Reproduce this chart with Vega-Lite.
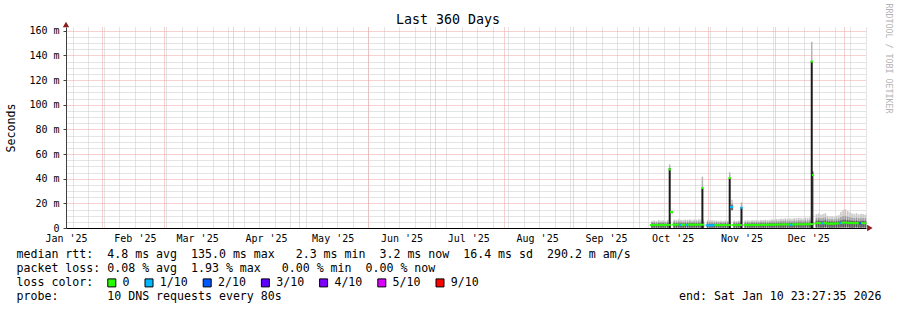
{
  "$schema": "https://vega.github.io/schema/vega-lite/v6.json",
  "width": 800,
  "height": 201,
  "autosize": "none",
  "padding": {"left": 66, "top": 27, "right": 31, "bottom": 82},
  "background": "white",
  "config": {"view": {"stroke": null}, "font": "DejaVu Sans Mono"},
  "title": {"text": "Last 360 Days", "font": "DejaVu Sans Mono", "fontSize": 13.3, "fontWeight": "normal", "color": "black", "anchor": "middle", "frame": "group", "dx": -18, "offset": 0, "dy": 23},
  "datasets": {
    "days": [
      {"d":"2025-10-06","lo":0.4,"m1":3.4,"m2":4.4,"hi":5.6,"med":2.4,"loss":"0"},
      {"d":"2025-10-07","lo":0.5,"m1":3.5,"m2":4.6,"hi":5.9,"med":2.5,"loss":"0"},
      {"d":"2025-10-08","lo":0.4,"m1":3.2,"m2":4.3,"hi":5.4,"med":2.3,"loss":"0"},
      {"d":"2025-10-09","lo":0.5,"m1":3.6,"m2":4.8,"hi":6.2,"med":2.6,"loss":"0"},
      {"d":"2025-10-10","lo":0.4,"m1":3.4,"m2":4.5,"hi":5.8,"med":2.4,"loss":"0"},
      {"d":"2025-10-11","lo":0.5,"m1":3.5,"m2":4.7,"hi":6.0,"med":2.5,"loss":"0"},
      {"d":"2025-10-12","lo":0.4,"m1":3.3,"m2":4.4,"hi":5.5,"med":2.3,"loss":"0"},
      {"d":"2025-10-13","lo":0.5,"m1":3.7,"m2":4.9,"hi":6.3,"med":2.6,"loss":"0"},
      {"d":"2025-10-14","lo":0.5,"m1":3.5,"m2":4.6,"hi":6.0,"med":2.5,"loss":"0"},
      {"d":"2025-10-15","lo":12.4,"m1":12.4,"m2":12.4,"hi":13.3,"med":12.9,"loss":"0"},
      {"d":"2025-10-16","lo":0.5,"m1":3.8,"m2":5.1,"hi":6.6,"med":2.7,"loss":"0"},
      {"d":"2025-10-17","lo":0.4,"m1":3.6,"m2":4.9,"hi":6.4,"med":2.6,"loss":"0"},
      {"d":"2025-10-18","lo":0.5,"m1":3.9,"m2":5.3,"hi":6.9,"med":2.8,"loss":"0"},
      {"d":"2025-10-19","lo":0.5,"m1":3.5,"m2":5.0,"hi":6.5,"med":2.4,"loss":"1/10"},
      {"d":"2025-10-20","lo":0.4,"m1":3.5,"m2":4.8,"hi":6.3,"med":2.5,"loss":"0"},
      {"d":"2025-10-21","lo":0.5,"m1":3.8,"m2":5.1,"hi":6.7,"med":2.7,"loss":"0"},
      {"d":"2025-10-22","lo":0.5,"m1":3.6,"m2":5.0,"hi":6.4,"med":2.5,"loss":"1/10"},
      {"d":"2025-10-23","lo":0.4,"m1":3.9,"m2":5.2,"hi":6.8,"med":2.8,"loss":"0"},
      {"d":"2025-10-24","lo":0.5,"m1":3.6,"m2":4.9,"hi":6.3,"med":2.6,"loss":"0"},
      {"d":"2025-10-25","lo":0.5,"m1":3.8,"m2":5.1,"hi":6.6,"med":2.7,"loss":"0"},
      {"d":"2025-10-26","lo":0.4,"m1":3.6,"m2":5.0,"hi":6.5,"med":2.6,"loss":"0"},
      {"d":"2025-10-27","lo":0.5,"m1":3.9,"m2":5.3,"hi":7.0,"med":2.8,"loss":"0"},
      {"d":"2025-10-28","lo":0.5,"m1":3.6,"m2":5.0,"hi":6.6,"med":2.6,"loss":"0"},
      {"d":"2025-10-29","lo":0.5,"m1":3.7,"m2":5.1,"hi":6.7,"med":2.7,"loss":"0"},
      {"d":"2025-10-31","lo":0.4,"m1":3.3,"m2":4.8,"hi":6.2,"med":2.2,"loss":"1/10"},
      {"d":"2025-11-01","lo":0.4,"m1":3.2,"m2":4.6,"hi":6.0,"med":2.1,"loss":"1/10"},
      {"d":"2025-11-02","lo":0.5,"m1":3.3,"m2":4.7,"hi":6.1,"med":2.2,"loss":"1/10"},
      {"d":"2025-11-03","lo":0.4,"m1":3.3,"m2":4.5,"hi":5.8,"med":2.3,"loss":"1/10"},
      {"d":"2025-11-04","lo":0.5,"m1":3.4,"m2":4.6,"hi":5.9,"med":2.4,"loss":"0"},
      {"d":"2025-11-05","lo":0.4,"m1":3.2,"m2":4.4,"hi":5.6,"med":2.3,"loss":"0"},
      {"d":"2025-11-06","lo":0.5,"m1":3.4,"m2":4.5,"hi":5.8,"med":2.4,"loss":"0"},
      {"d":"2025-11-07","lo":0.4,"m1":3.2,"m2":4.3,"hi":5.5,"med":2.3,"loss":"0"},
      {"d":"2025-11-08","lo":0.5,"m1":3.5,"m2":4.6,"hi":5.9,"med":2.5,"loss":"0"},
      {"d":"2025-11-09","lo":0.4,"m1":3.3,"m2":4.4,"hi":5.6,"med":2.3,"loss":"0"},
      {"d":"2025-11-10","lo":0.5,"m1":3.4,"m2":4.5,"hi":5.8,"med":2.4,"loss":"0"},
      {"d":"2025-11-11","lo":14.6,"m1":18.2,"m2":19.6,"hi":22.7,"med":17.0,"loss":"1/10"},
      {"d":"2025-11-12","lo":0.5,"m1":3.4,"m2":4.6,"hi":5.8,"med":2.4,"loss":"0"},
      {"d":"2025-11-13","lo":0.4,"m1":3.3,"m2":4.4,"hi":5.6,"med":2.3,"loss":"0"},
      {"d":"2025-11-14","lo":0.5,"m1":3.5,"m2":4.7,"hi":5.9,"med":2.5,"loss":"0"},
      {"d":"2025-11-15","lo":0.5,"m1":3.4,"m2":4.5,"hi":5.7,"med":2.4,"loss":"0"},
      {"d":"2025-11-17","lo":0.5,"m1":3.4,"m2":4.6,"hi":5.9,"med":2.4,"loss":"0"},
      {"d":"2025-11-18","lo":0.4,"m1":3.5,"m2":4.8,"hi":6.1,"med":2.5,"loss":"0"},
      {"d":"2025-11-19","lo":0.5,"m1":3.3,"m2":4.5,"hi":5.7,"med":2.3,"loss":"0"},
      {"d":"2025-11-20","lo":0.5,"m1":3.6,"m2":4.9,"hi":6.3,"med":2.6,"loss":"0"},
      {"d":"2025-11-21","lo":0.4,"m1":3.4,"m2":4.7,"hi":6.0,"med":2.4,"loss":"0"},
      {"d":"2025-11-22","lo":0.5,"m1":3.5,"m2":4.8,"hi":6.2,"med":2.5,"loss":"0"},
      {"d":"2025-11-23","lo":0.4,"m1":3.4,"m2":4.6,"hi":5.9,"med":2.4,"loss":"0"},
      {"d":"2025-11-24","lo":0.5,"m1":3.6,"m2":5.0,"hi":6.4,"med":2.6,"loss":"0"},
      {"d":"2025-11-25","lo":0.5,"m1":3.5,"m2":4.9,"hi":6.3,"med":2.5,"loss":"0"},
      {"d":"2025-11-26","lo":0.4,"m1":3.7,"m2":5.1,"hi":6.6,"med":2.7,"loss":"0"},
      {"d":"2025-11-27","lo":0.5,"m1":3.5,"m2":4.9,"hi":6.2,"med":2.5,"loss":"0"},
      {"d":"2025-11-28","lo":0.5,"m1":3.6,"m2":5.0,"hi":6.5,"med":2.6,"loss":"0"},
      {"d":"2025-11-29","lo":0.4,"m1":3.7,"m2":5.2,"hi":6.8,"med":2.7,"loss":"0"},
      {"d":"2025-11-30","lo":0.5,"m1":3.6,"m2":5.1,"hi":6.6,"med":2.6,"loss":"0"},
      {"d":"2025-12-01","lo":0.5,"m1":3.9,"m2":5.4,"hi":7.1,"med":2.8,"loss":"0"},
      {"d":"2025-12-02","lo":0.4,"m1":3.8,"m2":5.3,"hi":7.0,"med":2.7,"loss":"0"},
      {"d":"2025-12-03","lo":0.5,"m1":4.0,"m2":5.6,"hi":7.4,"med":2.9,"loss":"0"},
      {"d":"2025-12-04","lo":0.5,"m1":3.9,"m2":5.5,"hi":7.2,"med":2.8,"loss":"0"},
      {"d":"2025-12-05","lo":0.4,"m1":4.1,"m2":5.8,"hi":7.7,"med":3.0,"loss":"0"},
      {"d":"2025-12-06","lo":0.5,"m1":3.9,"m2":5.5,"hi":7.3,"med":2.8,"loss":"0"},
      {"d":"2025-12-07","lo":0.5,"m1":4.0,"m2":5.7,"hi":7.6,"med":2.9,"loss":"0"},
      {"d":"2025-12-08","lo":0.4,"m1":3.7,"m2":5.4,"hi":7.2,"med":2.6,"loss":"1/10"},
      {"d":"2025-12-09","lo":0.5,"m1":4.1,"m2":5.9,"hi":7.9,"med":3.0,"loss":"0"},
      {"d":"2025-12-10","lo":0.5,"m1":4.0,"m2":5.7,"hi":7.7,"med":2.9,"loss":"0"},
      {"d":"2025-12-11","lo":0.4,"m1":4.2,"m2":6.0,"hi":8.1,"med":3.1,"loss":"0"},
      {"d":"2025-12-12","lo":0.5,"m1":4.1,"m2":5.8,"hi":7.8,"med":3.0,"loss":"0"},
      {"d":"2025-12-13","lo":0.5,"m1":4.0,"m2":5.6,"hi":7.5,"med":2.9,"loss":"0"},
      {"d":"2025-12-14","lo":0.4,"m1":4.2,"m2":6.1,"hi":8.3,"med":3.1,"loss":"0"},
      {"d":"2025-12-15","lo":0.5,"m1":4.1,"m2":5.9,"hi":8.0,"med":3.0,"loss":"0"},
      {"d":"2025-12-16","lo":0.5,"m1":4.3,"m2":6.2,"hi":8.4,"med":3.2,"loss":"0"},
      {"d":"2025-12-17","lo":0.5,"m1":4.2,"m2":6.0,"hi":8.2,"med":3.1,"loss":"0"},
      {"d":"2025-12-19","lo":0.5,"m1":5.6,"m2":7.8,"hi":11.0,"med":3.9,"loss":"0"},
      {"d":"2025-12-20","lo":0.6,"m1":5.9,"m2":8.1,"hi":11.5,"med":4.1,"loss":"0"},
      {"d":"2025-12-21","lo":0.5,"m1":5.4,"m2":7.6,"hi":10.6,"med":3.8,"loss":"0"},
      {"d":"2025-12-22","lo":0.5,"m1":5.5,"m2":7.9,"hi":11.2,"med":3.7,"loss":"1/10"},
      {"d":"2025-12-23","lo":0.6,"m1":6.0,"m2":8.3,"hi":11.8,"med":4.2,"loss":"0"},
      {"d":"2025-12-24","lo":0.5,"m1":5.2,"m2":7.2,"hi":9.6,"med":3.7,"loss":"0"},
      {"d":"2025-12-25","lo":0.5,"m1":5.0,"m2":6.8,"hi":9.0,"med":3.5,"loss":"0"},
      {"d":"2025-12-26","lo":0.4,"m1":5.1,"m2":7.0,"hi":9.3,"med":3.6,"loss":"0"},
      {"d":"2025-12-27","lo":0.5,"m1":4.9,"m2":6.7,"hi":8.8,"med":3.5,"loss":"0"},
      {"d":"2025-12-28","lo":0.5,"m1":5.2,"m2":7.2,"hi":9.7,"med":3.7,"loss":"0"},
      {"d":"2025-12-29","lo":0.5,"m1":5.4,"m2":7.5,"hi":10.2,"med":3.8,"loss":"0"},
      {"d":"2025-12-30","lo":0.6,"m1":5.8,"m2":8.6,"hi":12.8,"med":3.9,"loss":"1/10"},
      {"d":"2025-12-31","lo":0.6,"m1":6.3,"m2":9.3,"hi":14.5,"med":4.3,"loss":"0"},
      {"d":"2026-01-01","lo":0.6,"m1":6.5,"m2":9.6,"hi":15.0,"med":4.4,"loss":"0"},
      {"d":"2026-01-02","lo":0.6,"m1":6.1,"m2":9.0,"hi":13.6,"med":4.2,"loss":"0"},
      {"d":"2026-01-03","lo":0.5,"m1":5.9,"m2":8.6,"hi":12.6,"med":4.1,"loss":"0"},
      {"d":"2026-01-04","lo":0.5,"m1":5.7,"m2":8.1,"hi":11.5,"med":4.0,"loss":"0"},
      {"d":"2026-01-05","lo":0.5,"m1":5.5,"m2":7.8,"hi":11.0,"med":3.9,"loss":"0"},
      {"d":"2026-01-06","lo":0.6,"m1":5.8,"m2":8.2,"hi":11.8,"med":4.1,"loss":"0"},
      {"d":"2026-01-07","lo":0.5,"m1":5.3,"m2":7.7,"hi":10.7,"med":3.8,"loss":"0"},
      {"d":"2026-01-08","lo":0.5,"m1":5.4,"m2":7.9,"hi":11.3,"med":3.7,"loss":"2/10"},
      {"d":"2026-01-09","lo":0.6,"m1":5.6,"m2":7.8,"hi":11.1,"med":4.0,"loss":"0"},
      {"d":"2026-01-10","lo":0.5,"m1":5.4,"m2":7.6,"hi":10.6,"med":3.9,"loss":"0"}
    ],
    "spikes": [
      {"t":"2025-10-14T16:00:00Z","top":48.4,"smoke":51.5,"med":47.5,"loss":"0"},
      {"t":"2025-10-29T09:00:00Z","top":32.2,"smoke":41.6,"med":32.6,"loss":"0"},
      {"t":"2025-11-10T16:00:00Z","top":40.3,"smoke":45.2,"med":40.6,"loss":"0"},
      {"t":"2025-11-15T23:00:00Z","top":16.8,"smoke":20.8,"med":16.4,"loss":"1/10"},
      {"t":"2025-12-17T14:00:00Z","top":135.4,"smoke":151.0,"med":135.0,"loss":"0"}
    ],
    "trail": [
      {"t":"2025-12-18T02:00:00Z","top":46.0,"med":43.0,"loss":"0"}
    ],
    "arrows": [
      {"t":"2025-01-16T00:00:00Z","v":165}
    ],
    "arrowx": [
      {"t":"2026-01-12T18:00:00Z","v":0}
    ]
  },
  "resolve": {"axis": {"x": "independent", "y": "independent"}},
  "layer": [
    {
      "data": {"name": "days"},
      "mark": {"type": "bar", "color": "#c8c8c8", "stroke": "#c8c8c8", "strokeWidth": 0.5},
      "encoding": {
        "x": {"field": "d", "timeUnit": "utcyearmonthdate", "type": "temporal",
          "scale": {"type": "utc", "domain": [{"year": 2025, "month": 1, "date": 16, "utc": true}, {"year": 2026, "month": 1, "date": 11, "utc": true}]},
          "axis": {"orient": "bottom", "tickCount": {"interval": "week", "step": 1}, "grid": true, "gridColor": "#c8c8c8", "gridDash": [1, 1], "labels": false, "ticks": false, "domain": false,
            "title": "end: Sat Jan 10 23:27:35 2026", "titleAlign": "right", "titleAnchor": "end", "titleX": 815, "titleY": 71, "titleBaseline": "alphabetic",
            "titleFont": "DejaVu Sans Mono", "titleFontSize": 11.6, "titleFontWeight": "normal", "titleColor": "black"}},
        "y": {"field": "lo", "type": "quantitative", "scale": {"domain": [0, 163], "nice": false},
          "axis": {"orient": "left", "values": [0,5,10,15,20,25,30,35,40,45,50,55,60,65,70,75,80,85,90,95,100,105,110,115,120,125,130,135,140,145,150,155,160],
            "grid": true, "gridDash": [1, 1],
            "gridColor": {"condition": {"test": "datum.value % 20 === 0", "value": "#eea0a0"}, "value": "#c8c8c8"},
            "labelExpr": "datum.value % 20 === 0 ? (datum.value === 0 ? '0\u00a0\u00a0' : datum.value + ' m') : ''",
            "ticks": true, "tickSize": 3, "tickColor": "#404040",
            "tickOpacity": {"condition": {"test": "datum.value % 20 === 0", "value": 1}, "value": 0},
            "domain": true, "domainColor": "#404040",
            "labelFont": "DejaVu Sans Mono", "labelFontSize": 10, "labelColor": "black", "labelPadding": 4, "labelOverlap": false, "labelFlush": false,
            "title": "Seconds", "titleFont": "DejaVu Sans Mono", "titleFontSize": 11.6, "titleFontWeight": "normal", "titleColor": "black",
            "titleAngle": -90, "titleX": -55, "titleY": 100.5, "titleAlign": "center", "titleBaseline": "middle"}},
        "y2": {"field": "hi"}
      }
    },
    {
      "data": {"name": "days"},
      "mark": {"type": "bar", "color": "#a0a0a0", "stroke": "#a0a0a0", "strokeWidth": 0.5},
      "encoding": {
        "x": {"field": "d", "timeUnit": "utcyearmonthdate", "type": "temporal", "scale": {"type": "utc"},
          "axis": {"orient": "bottom", "tickCount": {"interval": "month", "step": 1}, "grid": true, "gridColor": "#eea0a0", "gridDash": [1, 1], "labels": false, "ticks": false, "domain": false, "title": null}},
        "y": {"field": "lo", "type": "quantitative", "axis": null},
        "y2": {"field": "m2"}
      }
    },
    {
      "data": {"name": "days"},
      "mark": {"type": "bar", "color": "#5c5c5c", "stroke": "#5c5c5c", "strokeWidth": 0.5},
      "encoding": {
        "x": {"field": "d", "timeUnit": "utcyearmonthdate", "type": "temporal", "scale": {"type": "utc"},
          "axis": {"orient": "bottom",
            "values": [{"year":2025,"month":1,"date":16,"utc":true},{"year":2025,"month":2,"date":16,"utc":true},{"year":2025,"month":3,"date":16,"utc":true},{"year":2025,"month":4,"date":16,"utc":true},{"year":2025,"month":5,"date":16,"utc":true},{"year":2025,"month":6,"date":16,"utc":true},{"year":2025,"month":7,"date":16,"utc":true},{"year":2025,"month":8,"date":16,"utc":true},{"year":2025,"month":9,"date":16,"utc":true},{"year":2025,"month":10,"date":16,"utc":true},{"year":2025,"month":11,"date":16,"utc":true},{"year":2025,"month":12,"date":16,"utc":true}],
            "labelExpr": "utcFormat(datum.value, \"%b '%y\")",
            "grid": false, "ticks": false, "tickSize": 0, "domain": true, "domainColor": "black",
            "labelFont": "DejaVu Sans Mono", "labelFontSize": 10, "labelColor": "black", "labelPadding": 5, "labelOverlap": false, "labelFlush": false, "labelAlign": "center", "labelBaseline": "top",
            "title": ["median rtt:\u00a0\u00a04.8 ms avg\u00a0\u00a0135.0 ms max\u00a0\u00a0\u00a02.3 ms min\u00a0\u00a03.2 ms now\u00a0\u00a016.4 ms sd\u00a0\u00a0290.2 m am/s",
                      "packet loss: 0.08 % avg\u00a0\u00a01.93 % max\u00a0\u00a0\u00a00.00 % min\u00a0\u00a00.00 % now",
                      "loss color:",
                      "probe:\u00a0\u00a0\u00a0\u00a0\u00a0\u00a0\u00a010 DNS requests every 80s"],
            "titleAlign": "left", "titleAnchor": "start", "titleX": -50, "titleY": 29, "titleBaseline": "alphabetic", "titleLineHeight": 14,
            "titleFont": "DejaVu Sans Mono", "titleFontSize": 11.6, "titleFontWeight": "normal", "titleColor": "black"}},
        "y": {"field": "lo", "type": "quantitative", "axis": null},
        "y2": {"field": "m1"}
      }
    },
    {
      "data": {"name": "spikes"},
      "mark": {"type": "rule", "color": "#b4b4b4", "strokeWidth": 1.5},
      "encoding": {
        "x": {"field": "t", "type": "temporal", "scale": {"type": "utc"}, "axis": null},
        "y": {"field": "top", "type": "quantitative",
          "axis": {"orient": "right", "labels": false, "ticks": false, "domain": false, "grid": false,
            "title": "RRDTOOL / TOBI OETIKER", "titleAngle": 90, "titleX": 21.5, "titleY": 31, "titleAlign": "center", "titleBaseline": "middle",
            "titleFont": "DejaVu Sans Mono", "titleFontSize": 8.3, "titleFontWeight": "normal", "titleColor": "#b4b4b4"}},
        "y2": {"field": "smoke"}
      }
    },
    {
      "data": {"name": "spikes"},
      "mark": {"type": "rule", "color": "#1c1c1c", "strokeWidth": 2},
      "encoding": {
        "x": {"field": "t", "type": "temporal", "scale": {"type": "utc"}, "axis": null},
        "y": {"field": "top", "type": "quantitative", "axis": null},
        "y2": {"datum": 0}
      }
    },
    {
      "data": {"name": "trail"},
      "mark": {"type": "rule", "color": "#1c1c1c", "strokeWidth": 1},
      "encoding": {
        "x": {"field": "t", "type": "temporal", "scale": {"type": "utc"}, "axis": null},
        "y": {"field": "top", "type": "quantitative", "axis": null},
        "y2": {"datum": 0}
      }
    },
    {
      "data": {"name": "days"},
      "mark": {"type": "tick", "orient": "horizontal", "size": 3, "thickness": 2, "opacity": 1, "timeUnitBandPosition": 0.5},
      "encoding": {
        "x": {"field": "d", "timeUnit": "utcyearmonthdate", "type": "temporal", "scale": {"type": "utc"}, "axis": null},
        "y": {"field": "med", "type": "quantitative", "axis": null},
        "color": {"field": "loss", "type": "nominal",
          "scale": {"domain": ["0", "1/10", "2/10", "3/10", "4/10", "5/10", "9/10"], "range": ["#26ff00", "#00b8ff", "#0059ff", "#5e00ff", "#7e00ff", "#dd00ff", "#ff0000"]},
          "legend": {"orient": "none", "legendX": 40, "legendY": 250, "direction": "horizontal", "title": null, "padding": 0,
            "symbolType": "square", "symbolSize": 64, "symbolStrokeColor": "black", "symbolStrokeWidth": 1, "symbolOpacity": 1,
            "labelFont": "DejaVu Sans Mono", "labelFontSize": 11.6, "labelColor": "black", "labelOffset": 5, "columnPadding": 12.2}}
      }
    },
    {
      "data": {"name": "spikes"},
      "mark": {"type": "tick", "orient": "horizontal", "size": 2.4, "thickness": 2, "opacity": 1},
      "encoding": {
        "x": {"field": "t", "type": "temporal", "scale": {"type": "utc"}, "axis": null},
        "y": {"field": "med", "type": "quantitative", "axis": null},
        "color": {"field": "loss", "type": "nominal"}
      }
    },
    {
      "data": {"name": "trail"},
      "mark": {"type": "tick", "orient": "horizontal", "size": 2, "thickness": 2, "opacity": 1},
      "encoding": {
        "x": {"field": "t", "type": "temporal", "scale": {"type": "utc"}, "axis": null},
        "y": {"field": "med", "type": "quantitative", "axis": null},
        "color": {"field": "loss", "type": "nominal"}
      }
    },
    {
      "data": {"name": "arrows"},
      "mark": {"type": "point", "shape": "triangle-up", "filled": true, "color": "#8c1c1c", "size": 40, "opacity": 1},
      "encoding": {
        "x": {"field": "t", "type": "temporal", "scale": {"type": "utc"}, "axis": null},
        "y": {"field": "v", "type": "quantitative", "axis": null}
      }
    },
    {
      "data": {"name": "arrowx"},
      "mark": {"type": "point", "shape": "triangle-right", "filled": true, "color": "#8c1c1c", "size": 40, "opacity": 1},
      "encoding": {
        "x": {"field": "t", "type": "temporal", "scale": {"type": "utc"}, "axis": null},
        "y": {"field": "v", "type": "quantitative", "axis": null}
      }
    }
  ]
}
